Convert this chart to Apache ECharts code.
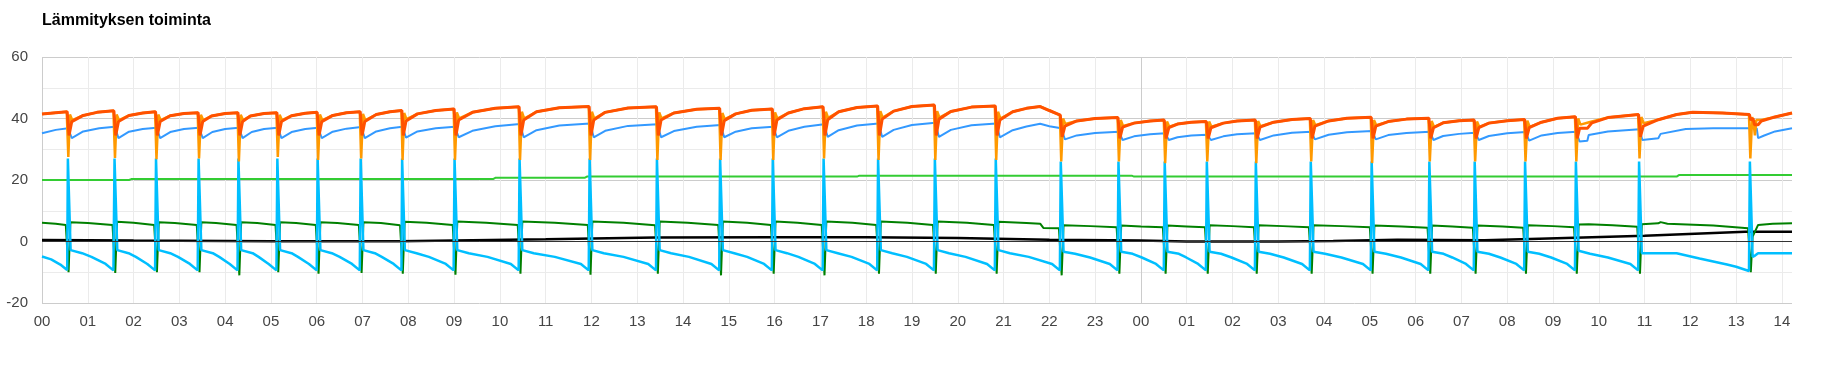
<!DOCTYPE html>
<html>
<head>
<meta charset="utf-8">
<script src="https://cdn.jsdelivr.net/npm/echarts@6/dist/echarts.min.js"></script>
<style>
html,body{margin:0;padding:0;background:#fff;}
#chart{width:1830px;height:388px;}
</style>
</head>
<body>
<div id="chart"></div>
<script>
// ---------- DATA (hours from start, value) ----------
const titleText = 'Lämmityksen toiminta';
const hourLabels = ['00','01','02','03','04','05','06','07','08','09','10','11','12','13','14','15','16','17','18','19','20','21','22','23',
                    '00','01','02','03','04','05','06','07','08','09','10','11','12','13','14'];
const yTickLabels = {'-20':'-20','0':'0','20':'20','40':'40','60':'60'};

const supplyRed = [
[0,41.5],[0.3,41.9],[0.55,42.2],
[0.59,34.5],[0.65,39.0],[0.9,41.0],[1.2,42.0],[1.57,42.5],
[1.61,34.5],[1.67,39.0],[1.9,41.0],[2.2,41.8],[2.48,42.2],
[2.52,34.5],[2.58,39.0],[2.8,40.9],[3.1,41.6],[3.41,41.9],
[3.45,34.5],[3.51,39.0],[3.7,40.8],[4.0,41.6],[4.28,41.9],
[4.32,34.5],[4.38,39.0],[4.55,40.8],[4.85,41.6],[5.13,41.9],
[5.17,34.5],[5.23,39.0],[5.45,40.9],[5.75,41.7],[6.01,42.0],
[6.05,34.5],[6.11,39.0],[6.35,41.0],[6.65,41.9],[6.95,42.2],
[6.99,34.5],[7.05,39.0],[7.3,41.3],[7.6,42.2],[7.86,42.6],
[7.89,34.5],[7.95,39.2],[8.2,41.5],[8.6,42.6],[9.0,43.1],
[9.04,34.5],[9.1,39.5],[9.4,42.0],[9.9,43.3],[10.42,43.8],
[10.46,34.5],[10.52,39.5],[10.8,42.2],[11.3,43.5],[11.95,43.9],
[11.99,34.5],[12.05,39.5],[12.3,42.0],[12.8,43.4],[13.42,43.8],
[13.46,34.5],[13.52,39.5],[13.8,41.8],[14.3,43.0],[14.8,43.3],
[14.84,34.5],[14.9,39.3],[15.15,41.5],[15.5,42.7],[15.95,43.1],
[15.99,34.5],[16.05,39.5],[16.3,41.8],[16.65,43.2],[17.06,43.8],
[17.1,34.5],[17.16,39.6],[17.4,42.2],[17.8,43.6],[18.25,44.1],
[18.29,34.5],[18.35,39.8],[18.6,42.4],[19.0,43.9],[19.49,44.4],
[19.53,34.5],[19.59,39.8],[19.85,42.3],[20.3,43.7],[20.82,44.1],
[20.86,34.5],[20.92,39.5],[21.2,42.2],[21.5,43.3],[21.8,43.9],[22.0,42.6],[22.24,41.1],
[22.28,34.0],[22.34,37.5],[22.6,39.2],[23.0,40.0],[23.5,40.3],
[23.54,33.5],[23.6,37.2],[23.85,38.5],[24.2,39.2],[24.51,39.5],
[24.55,33.5],[24.61,37.0],[24.8,38.2],[25.1,38.8],[25.43,39.0],
[25.47,33.5],[25.53,37.0],[25.8,38.5],[26.1,39.2],[26.5,39.5],
[26.54,33.5],[26.6,37.2],[26.9,38.8],[27.3,39.7],[27.7,40.0],
[27.74,33.5],[27.8,37.5],[28.1,39.2],[28.5,40.1],[29.03,40.4],
[29.07,33.5],[29.13,37.5],[29.4,39.0],[29.8,39.8],[30.29,40.1],
[30.33,33.5],[30.39,37.0],[30.6,38.6],[30.95,39.3],[31.28,39.5],
[31.32,33.5],[31.38,37.0],[31.6,38.5],[32.0,39.3],[32.38,39.7],
[32.42,33.5],[32.48,37.0],[32.75,38.8],[33.1,40.1],[33.49,40.6],
[33.53,33.5],[33.58,36.8],[33.75,36.8],[33.85,38.6],[34.2,40.3],[34.87,41.3],
[34.91,34.0],[34.97,37.5],[35.3,39.6],[35.7,41.3],[36.05,42.0],[36.7,41.8],[37.29,41.3],
[37.32,39.5],[37.37,40.0],[37.4,38.0],[37.48,38.0],[37.55,39.2],[37.8,40.3],[38.22,41.8]
];

const supplyOrange = [
[0,41.5],[0.3,41.9],[0.54,42.2],
[0.575,27.5],[0.61,41.3],[0.66,39.5],[0.9,41.0],[1.2,42.0],[1.56,42.5],
[1.594,27.2],[1.63,41.3],[1.68,39.5],[1.9,41.0],[2.2,41.8],[2.47,42.2],
[2.50,26.8],[2.54,41.3],[2.59,39.5],[2.8,40.9],[3.1,41.6],[3.40,41.9],
[3.43,27.0],[3.47,41.2],[3.52,39.5],[3.7,40.8],[4.0,41.6],[4.27,41.9],
[4.30,26.0],[4.34,41.2],[4.39,39.5],[4.55,40.8],[4.85,41.6],[5.12,41.9],
[5.15,27.5],[5.19,41.2],[5.24,39.5],[5.45,40.9],[5.75,41.7],[6.0,42.0],
[6.03,26.5],[6.07,41.3],[6.12,39.5],[6.35,41.0],[6.65,41.9],[6.94,42.2],
[6.97,27.0],[7.01,41.5],[7.06,39.5],[7.3,41.3],[7.6,42.2],[7.85,42.6],
[7.875,26.5],[7.91,41.8],[7.96,39.8],[8.2,41.5],[8.6,42.6],[8.99,43.1],
[9.02,26.5],[9.06,42.0],[9.11,40.0],[9.4,42.0],[9.9,43.3],[10.41,43.8],
[10.44,26.5],[10.48,42.2],[10.53,40.0],[10.8,42.2],[11.3,43.5],[11.94,43.9],
[11.97,26.5],[12.01,42.2],[12.06,40.0],[12.3,42.0],[12.8,43.4],[13.41,43.8],
[13.44,26.5],[13.48,42.0],[13.53,40.0],[13.8,41.8],[14.3,43.0],[14.79,43.3],
[14.82,26.5],[14.86,41.8],[14.91,39.8],[15.15,41.5],[15.5,42.7],[15.94,43.1],
[15.97,26.5],[16.01,42.0],[16.06,40.0],[16.3,41.8],[16.65,43.2],[17.05,43.8],
[17.08,27.0],[17.12,42.2],[17.17,40.2],[17.4,42.2],[17.8,43.6],[18.24,44.1],
[18.27,26.5],[18.31,42.4],[18.36,40.3],[18.6,42.4],[19.0,43.9],[19.48,44.4],
[19.51,26.5],[19.55,42.4],[19.6,40.3],[19.85,42.3],[20.3,43.7],[20.81,44.1],
[20.84,26.5],[20.88,42.2],[20.93,40.0],[21.2,42.2],[21.5,43.3],[21.8,43.9],[22.0,42.6],[22.23,41.1],
[22.26,26.0],[22.3,40.0],[22.35,38.2],[22.6,39.2],[23.0,40.0],[23.49,40.3],
[23.52,26.0],[23.56,39.5],[23.61,37.6],[23.85,38.5],[24.2,39.2],[24.5,39.5],
[24.53,25.5],[24.57,39.0],[24.62,37.3],[24.8,38.2],[25.1,38.8],[25.42,39.0],
[25.45,26.0],[25.49,39.0],[25.54,37.3],[25.8,38.5],[26.1,39.2],[26.49,39.5],
[26.52,25.5],[26.56,39.2],[26.61,37.5],[26.9,38.8],[27.3,39.7],[27.69,40.0],
[27.72,26.0],[27.76,39.5],[27.81,37.8],[28.1,39.2],[28.5,40.1],[29.02,40.4],
[29.05,25.5],[29.09,39.5],[29.14,37.8],[29.4,39.0],[29.8,39.8],[30.28,40.1],
[30.31,26.0],[30.35,39.2],[30.4,37.3],[30.6,38.6],[30.95,39.3],[31.27,39.5],
[31.30,26.0],[31.34,39.0],[31.39,37.3],[31.6,38.5],[32.0,39.3],[32.37,39.7],
[32.40,26.0],[32.44,39.3],[32.49,37.3],[32.75,38.8],[33.1,40.1],[33.48,40.6],
[33.51,26.0],[33.55,40.0],[33.6,38.0],[33.75,38.6],[33.85,39.0],[34.2,40.3],[34.86,41.3],
[34.89,27.0],[34.93,40.5],[34.98,38.5],[35.3,39.6],[35.7,41.3],[36.05,42.0],[36.7,41.8],[37.28,41.3],
[37.31,27.0],[37.35,40.5],[37.38,38.5],[37.41,34.5],[37.44,39.5],[37.55,39.5],[37.8,40.3],[38.22,41.8]
];

const returnBlue = [
[0,35.2],[0.3,36.3],[0.57,36.8],
[0.65,33.6],[0.9,35.8],[1.25,36.8],[1.59,37.3],
[1.67,33.6],[1.9,35.7],[2.2,36.6],[2.5,37.0],
[2.58,33.6],[2.8,35.6],[3.1,36.6],[3.43,37.0],
[3.51,33.6],[3.72,35.6],[4.0,36.6],[4.3,37.0],
[4.38,33.6],[4.58,35.6],[4.85,36.6],[5.15,37.0],
[5.23,33.6],[5.45,35.6],[5.75,36.6],[6.03,37.0],
[6.11,33.6],[6.35,35.7],[6.65,36.7],[6.97,37.2],
[7.05,33.6],[7.3,35.8],[7.6,36.8],[7.87,37.3],
[7.95,33.8],[8.2,35.8],[8.6,36.8],[9.02,37.3],
[9.1,33.9],[9.4,36.0],[9.9,37.5],[10.44,38.2],
[10.52,33.9],[10.8,36.2],[11.3,37.7],[11.97,38.4],
[12.05,33.9],[12.3,36.0],[12.8,37.6],[13.44,38.1],
[13.52,33.9],[13.8,35.9],[14.3,37.3],[14.82,37.9],
[14.9,33.9],[15.15,35.7],[15.5,36.8],[15.97,37.3],
[16.05,33.9],[16.3,36.0],[16.65,37.3],[17.08,38.1],
[17.16,34.0],[17.4,36.2],[17.8,37.7],[18.27,38.4],
[18.35,34.0],[18.6,36.3],[19.0,37.9],[19.51,38.6],
[19.59,34.0],[19.85,36.3],[20.3,37.8],[20.84,38.4],
[20.92,33.9],[21.2,36.2],[21.5,37.4],[21.8,38.3],[22.0,37.5],[22.26,36.8],
[22.34,33.2],[22.6,34.5],[23.0,35.3],[23.52,35.7],
[23.6,33.0],[23.85,34.2],[24.2,34.9],[24.53,35.2],
[24.61,33.0],[24.8,33.9],[25.1,34.5],[25.45,34.7],
[25.53,33.0],[25.8,34.2],[26.1,34.9],[26.52,35.2],
[26.6,33.0],[26.9,34.5],[27.3,35.4],[27.72,35.7],
[27.8,33.2],[28.1,34.7],[28.5,35.5],[29.05,35.9],
[29.13,33.2],[29.4,34.6],[29.8,35.3],[30.31,35.7],
[30.39,33.0],[30.6,34.3],[30.95,35.0],[31.3,35.4],
[31.38,33.0],[31.6,34.3],[32.0,35.2],[32.4,35.6],
[32.48,32.8],[32.75,34.5],[33.1,35.3],[33.51,35.7],
[33.58,32.5],[33.75,32.8],[33.78,34.6],[34.2,35.8],[34.89,36.5],
[34.95,33.0],[35.3,33.6],[35.35,35.0],[35.9,36.6],[36.5,36.8],[37.45,36.8],
[37.48,33.6],[37.6,34.4],[37.85,35.8],[38.22,36.8]
];

const indoorGreen = [
[0,20.0],[1.9,20.0],[1.95,20.3],[9.85,20.3],[9.9,20.7],[11.85,20.7],[11.9,21.1],[17.8,21.1],[17.85,21.4],
[23.8,21.4],[23.85,21.1],[35.7,21.1],[35.75,21.6],[38.22,21.6]
];

const darkGreen = [
[0,6.1],[0.3,5.8],[0.52,5.4],
[0.58,-10.0],[0.62,6.3],[1.0,6.0],[1.54,5.4],
[1.6,-10.2],[1.64,6.4],[2.0,6.1],[2.45,5.4],
[2.51,-10.0],[2.55,6.3],[2.9,6.0],[3.38,5.4],
[3.44,-10.0],[3.48,6.3],[3.8,6.0],[4.25,5.4],
[4.31,-11.0],[4.35,6.3],[4.7,6.0],[5.1,5.4],
[5.16,-10.0],[5.2,6.3],[5.55,6.0],[5.98,5.4],
[6.04,-10.5],[6.08,6.3],[6.45,6.0],[6.92,5.4],
[6.98,-10.2],[7.02,6.3],[7.4,6.0],[7.82,5.3],
[7.88,-10.5],[7.92,6.4],[8.4,6.1],[8.97,5.4],
[9.03,-10.8],[9.07,6.5],[9.7,6.1],[10.39,5.4],
[10.45,-10.5],[10.49,6.5],[11.2,6.1],[11.92,5.4],
[11.98,-10.8],[12.02,6.5],[12.7,6.1],[13.39,5.3],
[13.45,-10.5],[13.49,6.5],[14.1,6.1],[14.77,5.4],
[14.83,-11.0],[14.87,6.5],[15.4,6.1],[15.92,5.4],
[15.98,-10.5],[16.02,6.5],[16.5,6.1],[17.03,5.4],
[17.09,-11.0],[17.13,6.5],[17.7,6.1],[18.22,5.4],
[18.28,-10.5],[18.32,6.5],[18.9,6.1],[19.46,5.4],
[19.52,-10.5],[19.56,6.5],[20.2,6.1],[20.79,5.4],
[20.85,-10.5],[20.89,6.4],[21.5,6.0],[21.8,5.8],[21.87,4.4],[22.21,4.3],
[22.27,-11.0],[22.31,5.3],[22.9,5.0],[23.47,4.6],
[23.53,-10.5],[23.57,5.2],[24.0,4.9],[24.48,4.6],
[24.54,-10.5],[24.58,5.2],[25.0,4.9],[25.4,4.6],
[25.46,-10.5],[25.5,5.3],[26.0,5.0],[26.47,4.6],
[26.53,-10.5],[26.57,5.3],[27.1,5.0],[27.67,4.6],
[27.73,-10.5],[27.77,5.3],[28.4,5.0],[29.0,4.6],
[29.06,-10.5],[29.1,5.2],[29.7,4.9],[30.26,4.5],
[30.32,-10.5],[30.36,5.2],[30.8,4.9],[31.25,4.5],
[31.31,-10.5],[31.35,5.2],[31.9,4.9],[32.35,4.5],
[32.41,-10.5],[32.45,5.3],[33.0,5.0],[33.46,4.6],
[33.52,-10.5],[33.56,5.5],[33.78,5.6],[34.3,5.3],[34.84,4.8],
[34.9,-10.5],[34.94,5.6],[35.3,5.9],[35.35,6.3],[35.5,5.8],[36.5,5.2],[37.26,4.3],
[37.32,-10.0],[37.36,1.6],[37.4,1.8],[37.48,5.4],[37.8,5.8],[38.22,5.9]
];

const cyanLine = [
[0,-4.9],[0.2,-5.8],[0.4,-7.5],[0.55,-9.3],
[0.565,27],[0.605,27],[0.625,-2.8],[0.875,-3.8],[1.08,-5.0],[1.39,-7.3],[1.56,-9.4],
[1.584,27],[1.624,27],[1.644,-2.8],[1.89,-3.8],[2.05,-5.0],[2.3,-7.3],[2.47,-9.4],
[2.49,27],[2.53,27],[2.55,-2.8],[2.8,-3.8],[2.97,-5.0],[3.23,-7.3],[3.40,-9.4],
[3.42,27],[3.46,27],[3.48,-2.8],[3.73,-3.8],[3.87,-5.0],[4.1,-7.3],[4.27,-9.4],
[4.29,27],[4.33,27],[4.35,-2.8],[4.6,-3.8],[4.73,-5.0],[4.95,-7.3],[5.12,-9.4],
[5.14,27],[5.18,27],[5.2,-2.8],[5.45,-3.8],[5.59,-5.0],[5.83,-7.3],[6.0,-9.4],
[6.02,27],[6.06,27],[6.08,-2.8],[6.33,-3.8],[6.5,-5.0],[6.77,-7.3],[6.94,-9.4],
[6.96,27],[7.0,27],[7.02,-2.8],[7.27,-3.8],[7.42,-5.0],[7.68,-7.3],[7.85,-9.4],
[7.865,27],[7.905,27],[7.925,-2.8],[8.18,-3.8],[8.45,-5.0],[8.82,-7.3],[8.99,-9.4],
[9.01,27],[9.05,27],[9.07,-2.8],[9.32,-3.8],[9.73,-5.0],[10.24,-7.3],[10.41,-9.4],
[10.43,27],[10.47,27],[10.49,-2.8],[10.74,-3.8],[11.2,-5.0],[11.77,-7.3],[11.94,-9.4],
[11.96,27],[12.0,27],[12.02,-2.8],[12.27,-3.8],[12.7,-5.0],[13.24,-7.3],[13.41,-9.4],
[13.43,27],[13.47,27],[13.49,-2.8],[13.74,-3.8],[14.13,-5.0],[14.62,-7.3],[14.79,-9.4],
[14.81,27],[14.85,27],[14.87,-2.8],[15.12,-3.8],[15.4,-5.0],[15.77,-7.3],[15.94,-9.4],
[15.96,27],[16.0,27],[16.02,-2.8],[16.27,-3.8],[16.52,-5.0],[16.88,-7.3],[17.05,-9.4],
[17.07,27],[17.11,27],[17.13,-2.8],[17.38,-3.8],[17.68,-5.0],[18.07,-7.3],[18.24,-9.4],
[18.26,27],[18.3,27],[18.32,-2.8],[18.57,-3.8],[18.89,-5.0],[19.31,-7.3],[19.48,-9.4],
[19.5,27],[19.54,27],[19.56,-2.8],[19.81,-3.8],[20.17,-5.0],[20.64,-7.3],[20.81,-9.4],
[20.83,27],[20.87,27],[20.89,-2.8],[21.14,-3.8],[21.55,-5.0],[22.06,-7.3],[22.23,-9.4],
[22.25,26],[22.29,26],[22.31,-3.3],[22.56,-4.0],[22.89,-5.2],[23.32,-7.3],[23.49,-9.4],
[23.51,26],[23.55,26],[23.57,-3.3],[23.82,-4.0],[24.02,-5.2],[24.33,-7.3],[24.5,-9.4],
[24.52,26],[24.56,26],[24.58,-3.3],[24.83,-4.0],[24.99,-5.2],[25.25,-7.3],[25.42,-9.4],
[25.44,26],[25.48,26],[25.5,-3.3],[25.75,-4.0],[25.98,-5.2],[26.32,-7.3],[26.49,-9.4],
[26.51,26],[26.55,26],[26.57,-3.3],[26.82,-4.0],[27.12,-5.2],[27.52,-7.3],[27.69,-9.4],
[27.71,26],[27.75,26],[27.77,-3.3],[28.02,-4.0],[28.38,-5.2],[28.85,-7.3],[29.02,-9.4],
[29.04,26],[29.08,26],[29.1,-3.3],[29.35,-4.0],[29.68,-5.2],[30.11,-7.3],[30.28,-9.4],
[30.3,26],[30.34,26],[30.36,-3.3],[30.61,-4.0],[30.8,-5.2],[31.1,-7.3],[31.27,-9.4],
[31.29,26],[31.33,26],[31.35,-3.3],[31.6,-4.0],[31.85,-5.2],[32.2,-7.3],[32.37,-9.4],
[32.39,26],[32.43,26],[32.45,-3.3],[32.7,-4.0],[32.96,-5.2],[33.31,-7.3],[33.48,-9.4],
[33.5,26],[33.54,26],[33.56,-3.0],[33.81,-4.0],[34.2,-5.2],[34.69,-7.3],[34.86,-9.4],
[34.88,26],[34.92,26],[34.94,-3.8],[35.7,-3.8],[36.2,-5.5],[36.8,-7.5],[37.0,-8.2],[37.28,-9.6],
[37.3,26],[37.34,26],[37.36,-5.0],[37.42,-4.5],[37.48,-3.8],[38.22,-3.8]
];

const outdoorBlack = [
[0,0.5],[2,0.3],[5,0.1],[7.8,0.1],[9,0.3],[11,0.7],[13.4,1.3],[16,1.4],[18,1.4],[20,1.1],[22,0.6],
[24,0.3],[25,0.0],[27,0.0],[28.2,0.2],[29.6,0.6],[31.5,0.4],[32.7,0.9],[35,1.9],[37.2,3.2],[38.22,3.2]
];

// ---------- CHART ----------
const xSplitColors = hourLabels.map((_, i) => (i === 0 || i === 24) ? '#cccccc' : '#ebebeb');
const ySplitColors = ['#cccccc', '#ebebeb'];

function lineSeries(name, data, color, width, extra) {
  return Object.assign({
    name: name, type: 'line', data: data, showSymbol: false, symbol: 'none',
    lineStyle: { color: color, width: width }, itemStyle: { color: color },
    animation: false, silent: true
  }, extra || {});
}

const chart = echarts.init(document.getElementById('chart'), null, { renderer: 'canvas' });
chart.setOption({
  backgroundColor: '#ffffff',
  animation: false,
  title: {
    text: titleText, left: 42, top: 13, padding: 0,
    textStyle: { fontFamily: 'Arial, "Liberation Sans", sans-serif', fontSize: 16, fontWeight: 'bold', color: '#000' }
  },
  grid: { left: 42, right: 38, top: 57, bottom: 85, containLabel: false },
  xAxis: {
    type: 'value', min: 0, max: 38.22, interval: 1,
    axisLine: { show: false }, axisTick: { show: false },
    splitLine: { show: true, showMaxLine: false, lineStyle: { color: xSplitColors, width: 1 } },
    axisLabel: {
      margin: 11, color: '#444', fontSize: 15, fontFamily: 'Arial, "Liberation Sans", sans-serif',
      showMaxLabel: false,
      formatter: v => (Math.abs(v - Math.round(v)) < 1e-6 && hourLabels[Math.round(v)] !== undefined) ? hourLabels[Math.round(v)] : ''
    }
  },
  yAxis: {
    type: 'value', min: -20, max: 60, interval: 10,
    axisLine: { show: false }, axisTick: { show: false },
    splitLine: { show: true, lineStyle: { color: ySplitColors, width: 1 } },
    axisLabel: {
      margin: 14, color: '#444', fontSize: 15, fontFamily: 'Arial, "Liberation Sans", sans-serif',
      formatter: v => yTickLabels[String(v)] || ''
    }
  },
  series: [
    lineSeries('Sisälämpötila', indoorGreen, '#33cc33', 2, {
      markLine: {
        silent: true, symbol: ['none', 'none'], label: { show: false },
        lineStyle: { color: '#333333', width: 1, type: 'solid' },
        data: [{ yAxis: 0 }]
      }
    }),
    lineSeries('Ulkolämpötila', outdoorBlack, '#000000', 2.5),
    lineSeries('Lauhdutin', darkGreen, '#008000', 2),
    lineSeries('Höyrystin', cyanLine, '#00bfff', 2.5),
    lineSeries('Paluuvesi', returnBlue, '#3399ff', 2),
    lineSeries('Kuumakaasu', supplyOrange, '#ff9900', 2.5),
    lineSeries('Menovesi', supplyRed, '#ff5100', 3)
  ]
});
</script>
</body>
</html>
